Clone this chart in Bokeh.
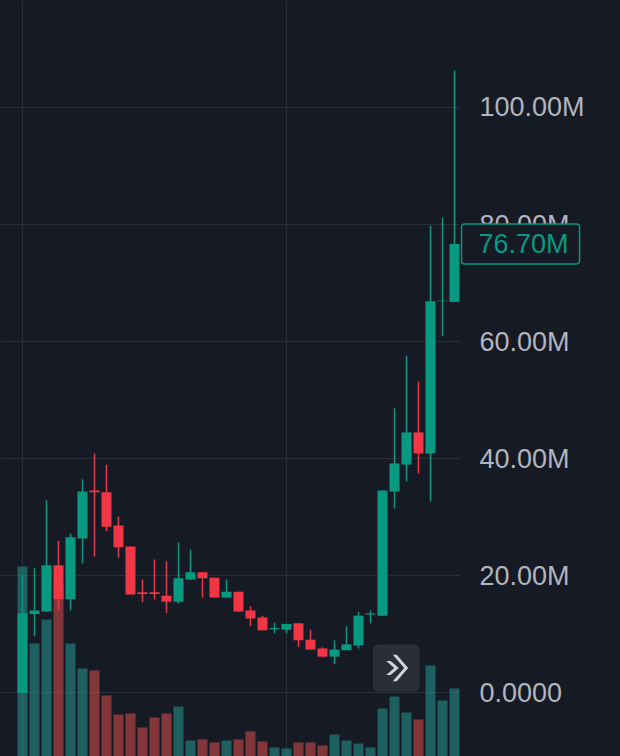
from bokeh.plotting import figure
from bokeh.layouts import row
from bokeh.models import (Range1d, FixedTicker, Grid, Label, BoxAnnotation,
                          PolyAnnotation, ColumnDataSource)
from bokeh.embed import file_html
from bokeh.resources import INLINE
from bokeh.core.properties import value

# ---- data (prices in millions) ----
opens  = [0.0, 13.5, 13.9, 21.8, 16.0, 26.4, 34.6, 34.3, 28.6, 25.0,
          17.2, 17.2, 16.6, 15.6, 19.4, 20.6, 19.7, 16.3, 17.3, 14.1,
          12.9, 10.9, 10.8, 11.9, 9.1, 7.6, 6.2, 7.3, 8.1, 13.4,
          13.2, 34.4, 39.0, 44.5, 40.9, 66.9, 66.8]
highs  = [19.9, 21.3, 32.9, 26.0, 27.2, 36.5, 40.9, 39.0, 30.1, 25.0,
          19.4, 22.8, 22.5, 25.7, 24.5, 20.6, 19.7, 19.4, 17.3, 14.8,
          13.2, 12.0, 11.8, 11.9, 10.8, 7.8, 9.0, 11.4, 13.9, 14.1,
          34.6, 48.6, 57.6, 53.2, 79.8, 81.2, 106.3]
lows   = [0.0, 9.7, 13.9, 14.1, 14.1, 22.1, 23.3, 27.6, 23.1, 16.8,
          15.5, 16.0, 13.6, 15.3, 19.4, 16.3, 16.3, 16.3, 13.9, 11.4,
          10.7, 10.2, 10.2, 7.9, 7.4, 6.1, 4.9, 7.3, 7.6, 11.9,
          13.2, 31.5, 36.1, 37.5, 32.7, 60.9, 66.8]
closes = [13.6, 14.1, 21.8, 16.0, 26.6, 34.4, 34.3, 28.4, 24.9, 16.8,
          16.9, 16.9, 15.6, 19.6, 20.6, 19.6, 16.3, 17.3, 13.9, 12.7,
          10.7, 11.1, 11.8, 9.0, 7.4, 6.2, 7.4, 8.3, 13.2, 13.6,
          34.6, 39.2, 44.5, 40.9, 66.9, 67.0, 76.7]
volumes = [1900, 1130, 1370, 1710, 1130, 880, 860, 610, 420, 430,
           290, 390, 430, 500, 160, 170, 140, 160, 170, 250,
           150, 90, 80, 140, 140, 110, 220, 160, 130, 90,
           480, 600, 440, 370, 910, 560, 680]
price_ticks = [0, 20, 40, 60, 80, 100]
price_tick_labels = ["0.0000", "20.00M", "40.00M", "60.00M", "80.00M", "100.00M"]
last_price_label = "76.70M"
time_grid_ticks = [0, 22]

# ---- styles ----
BG = "#161a25"
GRID = "#2a2e39"
UP = "#089981"
DOWN = "#f23645"
VOL_UP = "#26a69a"
VOL_DOWN = "#ef5350"
TXT = "#b2b5be"
FONT = "Liberation Sans"

idx = list(range(len(opens)))
up = [c >= o for o, c in zip(opens, closes)]
src = ColumnDataSource(dict(
    x=idx, open=opens, high=highs, low=lows, close=closes, vol=volumes,
    top=[max(o, c) for o, c in zip(opens, closes)],
    bottom=[min(o, c) for o, c in zip(opens, closes)],
    color=[UP if u else DOWN for u in up],
    vcolor=[VOL_UP if u else VOL_DOWN for u in up],
))

price_range = Range1d(-10.85, 118.27)

common = dict(output_backend="svg", toolbar_location=None, tools="",
              x_axis_location=None, y_axis_location=None,
              min_border_left=0, min_border_top=0, min_border_bottom=0,
              min_border_right=0,
              background_fill_color=None, border_fill_color=None,
              outline_line_color=None,
              styles={"background-color": BG})

# ---- main chart ----
p = figure(width=460, height=756, x_range=Range1d(-1.8333, 36.5),
           y_range=price_range, **common)
p.center = [r for r in p.center if not isinstance(r, Grid)]
p.add_layout(Grid(dimension=1, ticker=FixedTicker(ticks=price_ticks),
                  grid_line_color=GRID, grid_line_width=1))
p.add_layout(Grid(dimension=0, ticker=FixedTicker(ticks=time_grid_ticks),
                  grid_line_color=GRID, grid_line_width=1))

p.extra_y_ranges = {"vol": Range1d(0, 7560)}

p.vbar(x="x", top="vol", bottom=0, width=10/12, source=src,
       fill_color="vcolor", line_color=None, fill_alpha=0.5,
       y_range_name="vol")
p.segment(x0="x", y0="low", x1="x", y1="high", source=src,
          line_color="color", line_width=1.5)
p.vbar(x="x", top="top", bottom="bottom", width=10/12, source=src,
       fill_color="color", line_color=None)

# scroll-to-realtime button
p.add_layout(BoxAnnotation(left=372.3, right=419.3, bottom=65, top=112,
                           left_units="screen", right_units="screen",
                           top_units="screen", bottom_units="screen",
                           fill_color="#2a2e39", fill_alpha=1.0,
                           line_color=None, border_radius=6))
for x0, w, h, t in [(385.7, 8.1, 7.0, 4.5), (392.3, 11.4, 13.3, 4.0)]:
    ym = 88.5
    xs = [x0, x0 + w, x0, x0 + t, x0 + w + t, x0 + t]
    ys = [ym + h, ym, ym - h, ym - h, ym, ym + h]
    p.add_layout(PolyAnnotation(xs=xs, ys=ys, xs_units="screen", ys_units="screen",
                                fill_color="#d1d4dc", fill_alpha=1.0,
                                line_color=None))

# ---- price scale ----
ps = figure(width=160, height=756, x_range=Range1d(0, 160),
            y_range=price_range, **common)
ps.center = [r for r in ps.center if not isinstance(r, Grid)]
ps.text(x=[19] * len(price_ticks), y=price_ticks, text=price_tick_labels,
        text_font=value(FONT), text_font_size="27px", text_color=TXT,
        text_align="left", text_baseline="middle")

lbl = Label(x=1, y=closes[-1], x_units="screen", y_units="data",
            text=last_price_label, text_align="left", text_baseline="middle",
            text_font=FONT, text_font_size="27px", text_color=UP,
            background_fill_color=BG, border_line_color=UP, border_line_width=1.5,
            padding=(17, 11, 5, 5), border_radius=3)
ps.add_layout(lbl)

layout = row(p, ps, styles={"background-color": BG})
open("out.html", "w").write(file_html(layout, INLINE))
